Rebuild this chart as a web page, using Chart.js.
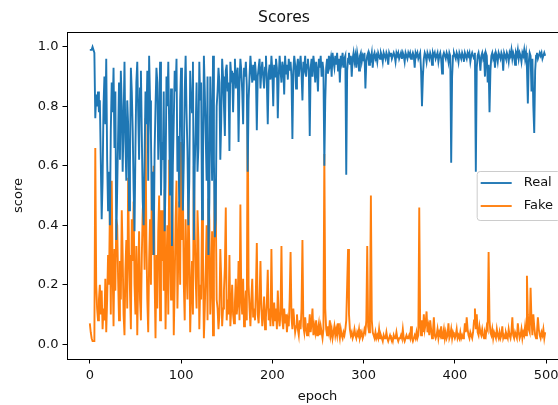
<!DOCTYPE html>
<html>
<head>
<meta charset="utf-8">
<script src="https://cdn.jsdelivr.net/npm/chart.js@4.4.1/dist/chart.umd.min.js"></script>
<style>
  html, body { margin: 0; padding: 0; background: #fff; overflow: hidden; }
  #wrap { width: 558px; height: 405px; overflow: hidden; }
</style>
</head>
<body>
<div id="wrap"><canvas id="scoreChart" width="635" height="405"></canvas></div>
<script>
// scores, one value per epoch (0 .. 499)
const realScores = [
  0.99, 0.99, 0.99, 1.00, 0.99, 0.98, 0.76, 0.84, 0.80, 0.85,
  0.78, 0.82, 0.62, 0.42, 0.55, 0.80, 0.90, 0.74, 0.96, 0.62,
  0.45, 0.58, 0.40, 0.72, 0.88, 0.78, 0.93, 0.66, 0.85, 0.35,
  0.52, 0.70, 0.88, 0.62, 0.92, 0.80, 0.58, 0.75, 0.95, 0.68,
  0.55, 0.82, 0.74, 0.45, 0.60, 0.93, 0.85, 0.72, 0.52, 0.38,
  0.66, 0.88, 0.95, 0.78, 0.62, 0.86, 0.92, 0.70, 0.48, 0.40,
  0.62, 0.85, 0.74, 0.92, 0.55, 0.97, 0.82, 0.70, 0.45, 0.58,
  0.30, 0.65, 0.80, 0.93, 0.88, 0.62, 0.75, 0.95, 0.50, 0.68,
  0.62, 0.85, 0.38, 0.55, 0.90, 0.80, 0.95, 0.72, 0.50, 0.86,
  0.33, 0.60, 0.75, 0.92, 0.85, 0.96, 0.58, 0.70, 0.46, 0.82,
  0.93, 0.70, 0.45, 0.62, 0.85, 0.97, 0.78, 0.65, 0.40, 0.55,
  0.92, 0.84, 0.78, 0.95, 0.35, 0.60, 0.72, 0.88, 0.58, 0.66,
  0.95, 0.82, 0.88, 0.42, 0.60, 0.97, 0.85, 0.70, 0.55, 0.90,
  0.30, 0.48, 0.90, 0.75, 0.55, 0.97, 0.62, 0.36, 0.42, 0.80,
  0.85, 0.93, 0.88, 0.62, 0.75, 0.96, 0.90, 0.80, 0.70, 0.92,
  0.94, 0.85, 0.88, 0.65, 0.95, 0.90, 0.92, 0.78, 0.91, 0.96,
  0.86, 0.91, 0.93, 0.68, 0.88, 0.96, 0.92, 0.85, 0.74, 0.93,
  0.90, 0.95, 0.87, 0.58, 0.82, 0.90, 0.97, 0.92, 0.88, 0.94,
  0.89, 0.95, 0.91, 0.72, 0.90, 0.93, 0.96, 0.86, 0.92, 0.95,
  0.90, 0.86, 0.93, 0.97, 0.88, 0.74, 0.91, 0.94, 0.89, 0.97,
  0.92, 0.80, 0.94, 0.90, 0.96, 0.93, 0.76, 0.90, 0.97, 0.92,
  0.88, 0.95, 0.93, 0.84, 0.97, 0.91, 0.94, 0.89, 0.96, 0.92,
  0.95, 0.90, 0.69, 0.92, 0.97, 0.94, 0.86, 0.93, 0.96, 0.90,
  0.94, 0.97, 0.91, 0.82, 0.95, 0.93, 0.97, 0.90, 0.94, 0.96,
  0.92, 0.70, 0.93, 0.96, 0.90, 0.97, 0.94, 0.88, 0.95, 0.92,
  0.85, 0.96, 0.93, 0.97, 0.90, 0.95, 0.92, 0.60, 0.82, 0.93,
  0.96, 0.91, 0.97, 0.94, 0.96, 0.90, 0.98, 0.95, 0.93, 0.97,
  0.94, 0.98, 0.92, 0.96, 0.88, 0.97, 0.95, 0.98, 0.93, 0.96,
  0.97, 0.57, 0.92, 0.96, 0.98, 0.94, 0.97, 0.90, 0.96, 0.98,
  0.95, 0.97, 0.93, 0.98, 0.96, 0.92, 0.97, 0.98, 0.95, 0.97,
  0.96, 0.98, 0.86, 0.95, 0.97, 0.98, 0.94, 0.97, 0.96, 0.98,
  0.93, 0.97, 0.98, 0.96, 0.97, 0.95, 0.98, 0.97, 0.96, 0.98,
  0.97, 0.95, 0.98, 0.97, 0.96, 0.98, 0.97, 0.94, 0.98, 0.97,
  0.98, 0.96, 0.97, 0.98, 0.97, 0.95, 0.98, 0.97, 0.98, 0.96,
  0.97, 0.98, 0.96, 0.98, 0.97, 0.95, 0.98, 0.97, 0.96, 0.98,
  0.97, 0.98, 0.96, 0.97, 0.98, 0.97, 0.93, 0.98, 0.97, 0.98,
  0.96, 0.97, 0.98, 0.92, 0.80, 0.90, 0.96, 0.98, 0.97, 0.95,
  0.98, 0.97, 0.96, 0.98, 0.97, 0.94, 0.98, 0.97, 0.98, 0.96,
  0.97, 0.98, 0.95, 0.97, 0.98, 0.96, 0.91, 0.97, 0.98, 0.97,
  0.96, 0.98, 0.97, 0.95, 0.98, 0.97, 0.61, 0.90, 0.97, 0.98,
  0.97, 0.96, 0.98, 0.97, 0.95, 0.98, 0.97, 0.96, 0.98, 0.97,
  0.95, 0.98, 0.97, 0.96, 0.98, 0.97, 0.98, 0.95, 0.97, 0.98,
  0.97, 0.96, 0.98, 0.58, 0.93, 0.97, 0.98, 0.96, 0.92, 0.97,
  0.98, 0.96, 0.97, 0.90, 0.98, 0.97, 0.88, 0.94, 0.78, 0.92,
  0.97, 0.98, 0.96, 0.97, 0.93, 0.98, 0.97, 0.95, 0.98, 0.97,
  0.96, 0.98, 0.97, 0.92, 0.98, 0.97, 0.96, 0.98, 0.97, 0.95,
  0.98, 0.97, 0.99, 0.96, 0.98, 0.97, 0.94, 0.98, 0.97, 0.99,
  0.96, 0.98, 0.97, 0.95, 0.98, 0.97, 0.99, 0.96, 0.98, 0.93,
  0.81, 0.95, 0.98, 0.97, 0.85, 0.96, 0.80, 0.71, 0.92, 0.97,
  0.98, 0.96, 0.97, 0.98, 0.97, 0.98, 0.96, 0.97, 0.98, 0.97
];
const fakeScores = [
  0.07, 0.04, 0.02, 0.01, 0.01, 0.01, 0.66, 0.20, 0.12, 0.08,
  0.15, 0.20, 0.10, 0.18, 0.05, 0.12, 0.08, 0.22, 0.04, 0.15,
  0.30, 0.20, 0.45, 0.10, 0.55, 0.25, 0.06, 0.32, 0.18, 0.42,
  0.40, 0.22, 0.08, 0.28, 0.15, 0.45, 0.30, 0.10, 0.03, 0.25,
  0.35, 0.12, 0.56, 0.30, 0.18, 0.05, 0.42, 0.28, 0.48, 0.20,
  0.10, 0.33, 0.03, 0.22, 0.38, 0.15, 0.08, 0.30, 0.45, 0.50,
  0.25, 0.76, 0.35, 0.15, 0.04, 0.28, 0.42, 0.20, 0.58, 0.30,
  0.60, 0.22, 0.02, 0.30, 0.12, 0.38, 0.50, 0.08, 0.45, 0.28,
  0.45, 0.18, 0.52, 0.05, 0.25, 0.40, 0.10, 0.62, 0.30, 0.15,
  0.58, 0.38, 0.03, 0.20, 0.42, 0.55, 0.12, 0.30, 0.48, 0.20,
  0.68, 0.35, 0.52, 0.20, 0.08, 0.42, 0.25, 0.15, 0.50, 0.33,
  0.04, 0.18, 0.28, 0.10, 0.60, 0.38, 0.22, 0.12, 0.45, 0.35,
  0.05, 0.20, 0.15, 0.45, 0.30, 0.02, 0.12, 0.25, 0.40, 0.08,
  0.49, 0.42, 0.10, 0.20, 0.38, 0.03, 0.30, 0.55, 0.48, 0.15,
  0.12, 0.05, 0.10, 0.32, 0.22, 0.06, 0.12, 0.18, 0.26, 0.46,
  0.08, 0.15, 0.10, 0.30, 0.06, 0.12, 0.20, 0.10, 0.07, 0.14,
  0.22, 0.10, 0.14, 0.28, 0.08, 0.47, 0.15, 0.10, 0.22, 0.06,
  0.12, 0.18, 0.08, 0.84, 0.20, 0.12, 0.06, 0.15, 0.22, 0.09,
  0.12, 0.08, 0.18, 0.34, 0.10, 0.07, 0.15, 0.28, 0.12, 0.06,
  0.10, 0.16, 0.05, 0.09, 0.14, 0.25, 0.08, 0.12, 0.06, 0.32,
  0.10, 0.06, 0.14, 0.08, 0.12, 0.05, 0.18, 0.09, 0.06, 0.11,
  0.33, 0.08, 0.05, 0.12, 0.07, 0.10, 0.04, 0.08, 0.06, 0.15,
  0.31, 0.09, 0.05, 0.12, 0.08, 0.04, 0.06, 0.10, 0.05, 0.03,
  0.08, 0.05, 0.12, 0.35, 0.06, 0.04, 0.09, 0.05, 0.03, 0.07,
  0.05, 0.10, 0.04, 0.07, 0.12, 0.03, 0.06, 0.04, 0.08, 0.03,
  0.05, 0.07, 0.03, 0.06, 0.04, 0.02, 0.05, 0.64, 0.12, 0.05,
  0.03, 0.06, 0.04, 0.08, 0.03, 0.05, 0.02, 0.04, 0.06, 0.03,
  0.05, 0.03, 0.07, 0.04, 0.02, 0.05, 0.03, 0.02, 0.04, 0.03,
  0.05, 0.08, 0.20, 0.32, 0.10, 0.05, 0.03, 0.04, 0.02, 0.03,
  0.05, 0.03, 0.02, 0.04, 0.03, 0.05, 0.02, 0.03, 0.04, 0.02,
  0.03, 0.05, 0.04, 0.08, 0.33, 0.06, 0.04, 0.10, 0.50, 0.08,
  0.04, 0.03, 0.02, 0.04, 0.02, 0.03, 0.02, 0.05, 0.02, 0.03,
  0.02, 0.01, 0.03, 0.02, 0.02, 0.04, 0.02, 0.01, 0.02, 0.03,
  0.02, 0.02, 0.01, 0.03, 0.02, 0.02, 0.04, 0.02, 0.01, 0.02,
  0.02, 0.03, 0.02, 0.05, 0.02, 0.01, 0.02, 0.03, 0.02, 0.02,
  0.03, 0.02, 0.06, 0.02, 0.01, 0.02, 0.03, 0.02, 0.04, 0.02,
  0.03, 0.46, 0.06, 0.03, 0.08, 0.04, 0.10, 0.05, 0.07, 0.11,
  0.04, 0.06, 0.03, 0.08, 0.05, 0.02, 0.04, 0.09, 0.03, 0.02,
  0.03, 0.05, 0.02, 0.04, 0.03, 0.06, 0.02, 0.03, 0.05, 0.02,
  0.04, 0.02, 0.03, 0.07, 0.02, 0.03, 0.05, 0.02, 0.04, 0.03,
  0.02, 0.03, 0.05, 0.02, 0.03, 0.02, 0.04, 0.02, 0.03, 0.02,
  0.03, 0.07, 0.04, 0.09, 0.05, 0.03, 0.02, 0.04, 0.03, 0.02,
  0.04, 0.08, 0.12, 0.05, 0.10, 0.04, 0.03, 0.06, 0.04, 0.03,
  0.05, 0.03, 0.02, 0.04, 0.03, 0.06, 0.05, 0.31, 0.08, 0.04,
  0.03, 0.05, 0.02, 0.04, 0.03, 0.02, 0.05, 0.03, 0.02, 0.04,
  0.02, 0.03, 0.06, 0.02, 0.03, 0.02, 0.04, 0.03, 0.02, 0.05,
  0.03, 0.02, 0.04, 0.09, 0.03, 0.02, 0.04, 0.03, 0.02, 0.07,
  0.04, 0.02, 0.03, 0.05, 0.02, 0.04, 0.03, 0.06, 0.03, 0.23,
  0.10, 0.05, 0.04, 0.19, 0.08, 0.03, 0.10, 0.06, 0.03, 0.02,
  0.04, 0.09, 0.05, 0.03, 0.02, 0.04, 0.03, 0.05, 0.02, 0.04
];
const epochs = realScores.map((v, i) => i);
const xTicks = [0, 100, 200, 300, 400, 500];
const yTicks = [0.0, 0.2, 0.4, 0.6, 0.8, 1.0];

Chart.defaults.font.family = '"DejaVu Sans", sans-serif';
Chart.defaults.color = '#111';

// draws top/right spines and a matplotlib style legend inside the axes
const axesFrame = {
    id: 'axesFrame',
    afterDraw(chart) {
        const { ctx, chartArea: a } = chart;
        ctx.save();
        ctx.strokeStyle = '#000';
        ctx.lineWidth = 1;
        ctx.strokeRect(Math.round(a.left) + 0.5, Math.round(a.top) + 0.5,
            Math.round(a.right - a.left), Math.round(a.bottom - a.top));

        ctx.font = '13px "DejaVu Sans"';
        const sets = chart.data.datasets;
        const textW = Math.max(...sets.map(d => ctx.measureText(d.label).width));
        const handle = 31, gap = 12, pad = 4.5, rowH = 23;
        const w = pad + handle + gap + textW + pad + 2;
        const h = rowH * sets.length + 3;
        const x = a.right - 8 - w;
        const y = (a.top + a.bottom) / 2 - h / 2;
        ctx.beginPath();
        ctx.roundRect(x + 0.5, y + 0.5, w, h, 3);
        ctx.fillStyle = 'rgba(255,255,255,0.8)';
        ctx.fill();
        ctx.strokeStyle = '#cccccc';
        ctx.stroke();
        sets.forEach((d, i) => {
            const cy = y + 12 + i * rowH;
            ctx.beginPath();
            ctx.moveTo(x + 4, cy);
            ctx.lineTo(x + 4 + handle, cy);
            ctx.strokeStyle = d.borderColor;
            ctx.lineWidth = 1.9;
            ctx.stroke();
            ctx.fillStyle = '#111';
            ctx.textBaseline = 'middle';
            ctx.fillText(d.label, x + 4 + handle + gap, cy);
        });
        ctx.restore();
    }
};

const ctx = document.getElementById('scoreChart').getContext('2d');
new Chart(ctx, {
    type: 'line',
    data: {
        datasets: [
            { label: 'Real', data: realScores.map((v, i) => ({ x: epochs[i], y: v })),
              borderColor: '#1f77b4', borderWidth: 1.9, pointRadius: 0, tension: 0 },
            { label: 'Fake', data: fakeScores.map((v, i) => ({ x: epochs[i], y: v })),
              borderColor: '#ff7f0e', borderWidth: 1.9, pointRadius: 0, tension: 0 }
        ]
    },
    options: {
        responsive: false,
        animation: false,
        devicePixelRatio: 1,
        layout: { padding: { left: 0, right: 67, top: 0, bottom: 0 } },
        plugins: {
            legend: { display: false },
            tooltip: { enabled: false },
            title: { display: true, text: 'Scores', color: '#111',
                     font: { size: 15.6, weight: 'normal' }, padding: { top: 8.5, bottom: 4.8 } }
        },
        scales: {
            x: {
                type: 'linear', min: -25, max: 524,
                afterBuildTicks: s => { s.ticks = xTicks.map(v => ({ value: v })); },
                afterFit: s => { s.height = 46; },
                ticks: { font: { size: 13 }, padding: 4, maxRotation: 0, color: '#111' },
                grid: { drawOnChartArea: false, drawTicks: true, tickLength: 4.5, color: '#000' },
                border: { display: true, color: '#000', width: 1 },
                title: { display: true, text: 'epoch', font: { size: 13 }, padding: { top: 0, bottom: 1 }, color: '#111' }
            },
            y: {
                min: -0.05, max: 1.05,
                afterBuildTicks: s => { s.ticks = yTicks.map(v => ({ value: v })); },
                afterFit: s => { s.width = 67; },
                ticks: { font: { size: 13 }, padding: 4, color: '#111', callback: v => v.toFixed(1) },
                grid: { drawOnChartArea: false, drawTicks: true, tickLength: 4.5, color: '#000' },
                border: { display: true, color: '#000', width: 1 },
                title: { display: true, text: 'score', font: { size: 13 }, padding: { top: 11, bottom: 0 }, color: '#111' }
            }
        }
    },
    plugins: [axesFrame]
});
</script>
</body>
</html>
